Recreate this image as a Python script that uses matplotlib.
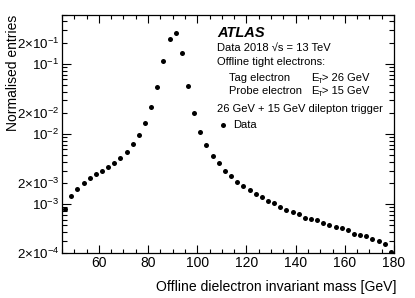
import numpy as np
import matplotlib
matplotlib.use("Agg")
import matplotlib.pyplot as plt
from matplotlib.ticker import FixedLocator, LogLocator, FuncFormatter, MultipleLocator

plt.rcParams['font.family'] = ['Liberation Sans', 'DejaVu Sans']
plt.rcParams['mathtext.fontset'] = 'custom'
plt.rcParams['mathtext.rm'] = 'Liberation Sans'
plt.rcParams['mathtext.it'] = 'Liberation Sans:italic'
plt.rcParams['mathtext.bf'] = 'Liberation Sans:bold'

# 2.5 GeV bins from 45 to 180 GeV
bin_edges = np.arange(45.0, 180.01, 2.5)
mass = 0.5 * (bin_edges[:-1] + bin_edges[1:])

# normalised entries per bin
entries = [8.5e-4, 1.32e-3, 1.64e-3, 1.98e-3, 2.34e-3, 2.66e-3, 3.00e-3, 3.38e-3,
           3.90e-3, 4.59e-3, 5.53e-3, 7.19e-3, 9.66e-3, 1.43e-2, 2.40e-2, 4.67e-2,
           1.08e-1, 2.28e-1, 2.77e-1, 1.41e-1, 4.82e-2, 1.97e-2, 1.08e-2, 6.97e-3,
           4.90e-3, 3.82e-3, 3.00e-3, 2.52e-3, 2.09e-3, 1.83e-3, 1.58e-3, 1.40e-3,
           1.24e-3, 1.11e-3, 1.02e-3, 9.02e-4, 8.26e-4, 7.81e-4, 7.18e-4, 6.41e-4,
           6.15e-4, 5.82e-4, 5.33e-4, 5.00e-4, 4.73e-4, 4.48e-4, 4.19e-4, 3.79e-4,
           3.60e-4, 3.44e-4, 3.19e-4, 2.96e-4, 2.65e-4, 2.10e-4]

W, H = 415, 298
fig = plt.figure(figsize=(W / 100, H / 100), dpi=100)
ax = fig.add_axes([62 / W, 1 - 253 / H, 332 / W, 238.3 / H])

ax.plot(mass, entries, 'o', color='black', ms=3.6, mew=0, label='Data')

ax.set_xlim(45, 180)
ax.set_yscale('log')
ax.set_ylim(2e-4, 0.5)

ax.xaxis.set_major_locator(MultipleLocator(20))
ax.xaxis.set_minor_locator(MultipleLocator(5))
ax.yaxis.set_major_locator(FixedLocator([1e-3, 1e-2, 1e-1]))
ax.yaxis.set_minor_locator(LogLocator(base=10, subs=np.arange(2, 10)))


def ylab(v, pos):
    e = int(np.floor(np.log10(v) + 1e-9))
    m = v / 10 ** e
    if abs(m - 1) < 1e-6:
        return r'$10^{%d}$' % e
    if abs(m - 2) < 1e-6:
        return r'$2{\times}10^{%d}$' % e
    return ''


ax.yaxis.set_major_formatter(FuncFormatter(ylab))
ax.yaxis.set_minor_formatter(FuncFormatter(ylab))

ax.tick_params(axis='both', which='both', direction='in', top=True, right=True,
               labelsize=10, width=0.8, color='black')
ax.tick_params(axis='y', which='both', labelsize=9.6)
ax.tick_params(axis='x', which='major', length=5.5, pad=2.5)
ax.tick_params(axis='x', which='minor', length=2.9)
ax.tick_params(axis='y', which='major', length=6.7, pad=2)
ax.tick_params(axis='y', which='minor', length=3.4, pad=2)
for s in ax.spines.values():
    s.set_linewidth(0.9)

ax.set_xlabel('Offline dielectron invariant mass [GeV]', fontsize=10.1, ha='right')
ax.xaxis.set_label_coords(1.009, -0.115)
ax.set_ylabel('Normalised entries', fontsize=10, ha='right')
ax.yaxis.set_label_coords(-0.128, 1.0)


def fx(x):
    return x / W


def fy(y):
    return 1 - y / H


fs = 8
fig.text(fx(217), fy(32.7), 'ATLAS', fontsize=10.5, fontweight='bold', fontstyle='italic', va='center')
fig.text(fx(217), fy(47.7), 'Data 2018 \u221As = 13 TeV', fontsize=fs, va='center')
fig.text(fx(217), fy(62.3), 'Offline tight electrons:', fontsize=fs, va='center')

# tag / probe lines, E_T drawn ROOT-style with the T tucked under the gap
for y, name, cut in [(78.3, 'Tag electron', '> 26 GeV'), (91, 'Probe electron', '> 15 GeV')]:
    fig.text(fx(229), fy(y), name, fontsize=fs, va='center')
    fig.text(fx(311), fy(y), 'E', fontsize=fs, va='center')
    fig.text(fx(317.5), fy(y + 3.5), 'T', fontsize=5.5, va='center')
    fig.text(fx(321.5), fy(y), cut, fontsize=fs, va='center')

fig.text(fx(217), fy(109.5), '26 GeV + 15 GeV dilepton trigger', fontsize=fs, va='center')

ax.legend(loc='center left', bbox_to_anchor=(fx(217.2), fy(125.5)), bbox_transform=fig.transFigure,
          frameon=False, fontsize=fs, borderaxespad=0, borderpad=0,
          handlelength=1.0, handletextpad=0.42, markerscale=1.0)

fig.savefig('out.png', dpi=100)
